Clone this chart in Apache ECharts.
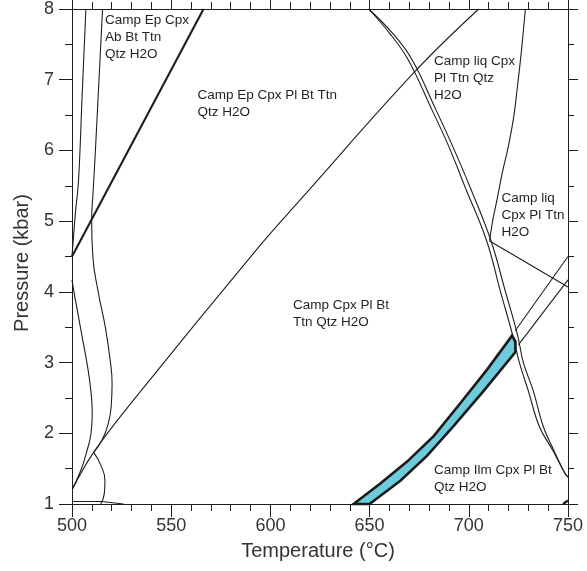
<!DOCTYPE html>
<html><head><meta charset="utf-8">
<script src="https://cdn.jsdelivr.net/npm/echarts@6/dist/echarts.min.js"></script>
<style>html,body{margin:0;padding:0;background:#fff}#c{width:587px;height:571px}</style>
</head><body><div id="c"></div>
<script>
// ---- axis ticks ----
const xTicks = [500, 550, 600, 650, 700, 750];
const yTicks = [1, 2, 3, 4, 5, 6, 7, 8];

// ---- reaction curves (Temperature °C, Pressure kbar) ----
const lineA_T = [507.0, 505.0, 503.3, 501.7, 500.0];
const lineA_P = [8.0, 6.7, 5.58, 5.11, 4.5];

const lineB_T = [515.4, 513.6, 511.8, 510.7, 509.9, 510.5, 513.2, 516.8, 519.4, 520.2, 519.8, 518.3, 515.1, 510.9];
const lineB_P = [8.0, 7.0, 6.0, 5.44, 5.0, 4.5, 4.0, 3.5, 3.0, 2.7, 2.4, 2.14, 1.9, 1.73];

const loop_T = [510.9, 514.5, 516.6, 516.3, 514.5];
const loop_P = [1.73, 1.55, 1.33, 1.15, 1.0];

const left_T = [500.0, 501.3, 503.0, 505.4, 507.8, 509.5, 510.2, 509.6, 507.6, 504.5, 500.3];
const left_P = [4.17, 3.95, 3.69, 3.32, 2.95, 2.6, 2.28, 2.0, 1.76, 1.48, 1.22];

const diag_T = [500.2, 510.9, 531.9, 594.9, 615.0, 673.0, 705.0];
const diag_P = [1.21, 1.73, 2.50, 4.66, 5.30, 7.12, 8.0];

const bottom_T = [500.0, 515.0, 526.0];
const bottom_P = [1.035, 1.035, 1.0];

const thick_T = [500.0, 566.3];
const thick_P = [4.5, 8.0];

const lineE_T = [728.5, 726.5, 724.5, 722.5, 719.5, 717.0, 714.2, 712.0, 710.5];
const lineE_P = [8.0, 7.4, 6.9, 6.45, 6.0, 5.7, 5.3, 5.0, 4.72];

const lineF_T = [710.5, 750.0];
const lineF_P = [4.72, 4.07];

const lineG1_T = [723.4, 750.0];
const lineG1_P = [3.45, 4.5];
const lineG2_T = [725.0, 750.0];
const lineG2_P = [3.25, 4.17];

const lineD1_T = [649.5, 660.0, 669.5, 681.5, 690.0, 698.0, 708.9, 716.0, 722.0, 725.5, 730.0, 735.5, 742.5, 748.5, 750.0];
const lineD1_P = [8.0, 7.66, 7.28, 6.57, 6.05, 5.49, 4.73, 4.0, 3.4, 3.0, 2.6, 2.1, 1.75, 1.43, 1.38];
const lineD2_T = [649.5, 661.5, 671.5, 683.5, 692.0, 700.5, 711.1, 718.5, 724.5, 727.5, 732.5, 737.5, 743.0, 748.5, 750.0];
const lineD2_P = [8.0, 7.66, 7.28, 6.57, 6.05, 5.49, 4.73, 4.0, 3.4, 3.0, 2.6, 2.1, 1.75, 1.43, 1.38];

const corner_T = [747.5, 750.0];
const corner_P = [1.0, 1.05];

// ---- highlighted field (polygon) ----
const bandT = [641.9, 655.4, 668.9, 682.3, 695.0, 709.2, 721.8, 723.5, 723.5, 707.5, 692.3, 678.9, 665.5, 650.0];
const bandP = [1.0, 1.29, 1.6, 1.96, 2.4, 2.9, 3.38, 3.30, 3.15, 2.6, 2.1, 1.68, 1.33, 1.0];

// ---- field labels ----
const fieldLabels = [
  'Camp Ep Cpx\nAb Bt Ttn\nQtz H2O',
  'Camp Ep Cpx Pl Bt Ttn\nQtz H2O',
  'Camp liq Cpx\nPl Ttn Qtz\nH2O',
  'Camp liq\nCpx Pl Ttn\nH2O',
  'Camp Cpx Pl Bt\nTtn Qtz H2O',
  'Camp Ilm Cpx Pl Bt\nQtz H2O'
];
const labelPos = [[105, 11.5], [197.5, 86.5], [434, 52.5], [501.5, 190], [293, 296.5], [434, 461.5]];

const FONT = "'Liberation Sans', Arial, Helvetica, sans-serif";
const INK = '#1e1e1e';

function ln(T, P, extra) {
  return Object.assign({
    type: 'line', xAxisIndex: 0, yAxisIndex: 0,
    data: T.map((t, i) => [t, P[i]]),
    showSymbol: false, symbol: 'none', silent: true,
    lineStyle: { color: INK, width: 1.1 }, z: 4
  }, extra || {});
}

const chart = echarts.init(document.getElementById('c'), null, { renderer: 'canvas' });

const axisCommon = {
  type: 'value', min: 500, max: 750, interval: 50,
  splitLine: { show: false },
  axisLine: { show: true, onZero: false, lineStyle: { color: INK, width: 1 } }
};
const yCommon = {
  type: 'value', min: 1, max: 8, interval: 1,
  splitLine: { show: false },
  axisLine: { show: true, onZero: false, lineStyle: { color: INK, width: 1 } }
};

chart.setOption({
  animation: false,
  backgroundColor: '#ffffff',
  grid: { left: 72, right: 19, top: 9, bottom: 67, containLabel: false },
  xAxis: [
    Object.assign({}, axisCommon, {
      position: 'bottom',
      axisTick: { show: true, length: 13, lineStyle: { color: INK } },
      minorTick: { show: true, splitNumber: 5, length: 7, lineStyle: { color: INK } },
      axisLabel: { show: true, fontSize: 18, color: '#333', fontFamily: FONT, margin: 13,
        formatter: v => xTicks.includes(v) ? String(v) : '' }
    }),
    Object.assign({}, axisCommon, {
      position: 'top',
      axisTick: { show: true, length: 9, lineStyle: { color: INK } },
      minorTick: { show: true, splitNumber: 5, length: 7, lineStyle: { color: INK } },
      axisLabel: { show: false }
    })
  ],
  yAxis: [
    Object.assign({}, yCommon, {
      position: 'left',
      axisTick: { show: true, length: 13, lineStyle: { color: INK } },
      minorTick: { show: true, splitNumber: 2, length: 7, lineStyle: { color: INK } },
      axisLabel: { show: true, fontSize: 18, color: '#333', fontFamily: FONT, margin: 18,
        formatter: v => yTicks.includes(v) ? String(v) : '' }
    }),
    Object.assign({}, yCommon, {
      position: 'right',
      axisTick: { show: true, length: 10, lineStyle: { color: INK } },
      minorTick: { show: true, splitNumber: 2, length: 6, lineStyle: { color: INK } },
      axisLabel: { show: false }
    })
  ],
  series: [
    {
      type: 'custom', xAxisIndex: 0, yAxisIndex: 0, silent: true, z: 3,
      data: [[bandT[0], bandP[0]]],
      renderItem: function (params, api) {
        const pts = bandT.map((t, i) => api.coord([t, bandP[i]]));
        return { type: 'polygon', shape: { points: pts },
          style: { fill: '#6dcbdb', stroke: '#1a1a1a', lineWidth: 2.6, lineJoin: 'miter' } };
      }
    },
    ln(lineA_T, lineA_P, { smooth: 0.4 }),
    ln(lineB_T, lineB_P, { smooth: 0.5 }),
    ln(loop_T, loop_P, { smooth: 0.5 }),
    ln(left_T, left_P, { smooth: 0.5 }),
    ln(diag_T, diag_P, { smooth: 0.4 }),
    ln(bottom_T, bottom_P),
    ln(thick_T, thick_P, { lineStyle: { color: INK, width: 2.1 } }),
    ln(lineE_T, lineE_P, { smooth: 0.4 }),
    ln(lineF_T, lineF_P),
    ln(lineG1_T, lineG1_P),
    ln(lineG2_T, lineG2_P),
    ln(lineD1_T, lineD1_P, { smooth: 0.4 }),
    ln(lineD2_T, lineD2_P, { smooth: 0.4 }),
    ln(corner_T, corner_P, { lineStyle: { color: INK, width: 2.5 } })
  ],
  graphic: [
    { type: 'text', x: 318, y: 551, silent: true,
      style: { text: 'Temperature (°C)', font: '20px ' + FONT, fill: '#333', textAlign: 'center', textVerticalAlign: 'middle' } },
    { type: 'text', x: 22.5, y: 263, rotation: Math.PI / 2, silent: true,
      style: { text: 'Pressure (kbar)', font: '20px ' + FONT, fill: '#333', textAlign: 'center', textVerticalAlign: 'middle' } }
  ].concat(fieldLabels.map((t, i) => ({
    type: 'text', x: labelPos[i][0], y: labelPos[i][1], silent: true, z: 10,
    style: { text: t, font: '13.5px ' + FONT, fill: '#231f20', lineHeight: 17, textAlign: 'left', textVerticalAlign: 'top' }
  })))
});
</script>
</body></html>
